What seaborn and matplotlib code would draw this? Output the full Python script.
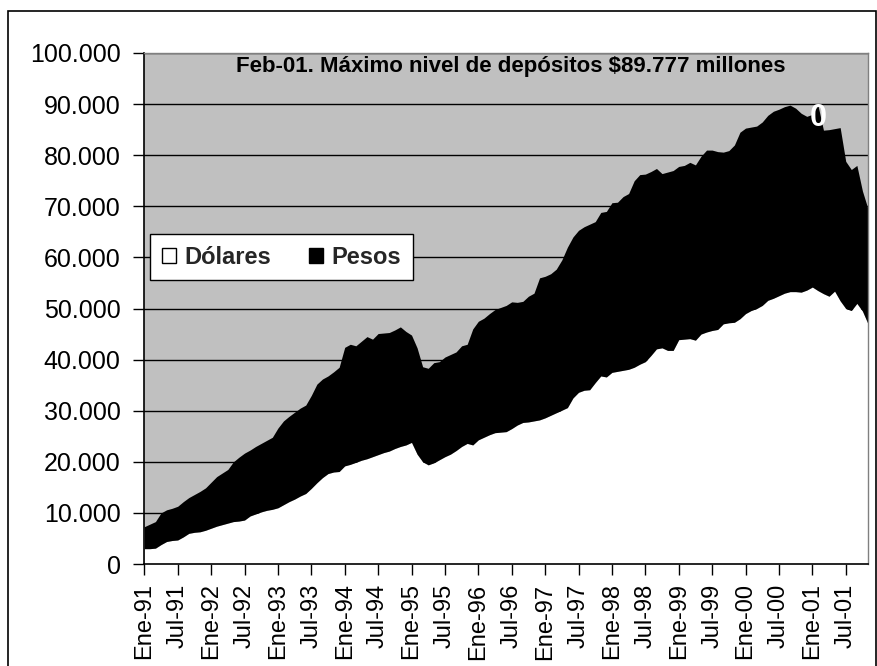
"""Depósitos del sistema financiero: stacked area of dólares and pesos, 1991-2001."""

import matplotlib.pyplot as plt
import numpy as np
import seaborn as sns
from matplotlib.patches import Patch, Rectangle
from matplotlib.ticker import FuncFormatter

# monthly values, Ene-91 .. Nov-01, in millions of $
dolares = [
    3.0, 3.0, 3.1, 3.8, 4.4, 4.6, 4.7, 5.3, 6.0, 6.2, 6.3, 6.6,
    7.0, 7.4, 7.7, 8.0, 8.3, 8.4, 8.6, 9.4, 9.8, 10.2, 10.5, 10.7,
    11.0, 11.6, 12.2, 12.7, 13.3, 13.8, 14.8, 15.9, 16.9, 17.7, 18.0, 18.1,
    19.2, 19.5, 19.9, 20.3, 20.6, 21.0, 21.4, 21.8, 22.1, 22.6, 23.0, 23.3,
    23.8, 21.5, 20.0, 19.4, 19.8, 20.4, 21.0, 21.5, 22.2, 23.0, 23.6, 23.3,
    24.3, 24.8, 25.3, 25.7, 25.8, 25.9, 26.5, 27.2, 27.7, 27.8, 28.0, 28.2,
    28.6, 29.1, 29.6, 30.1, 30.6, 32.5, 33.6, 34.0, 34.1, 35.5, 36.8, 36.6,
    37.5, 37.7, 37.9, 38.1, 38.5, 39.1, 39.6, 40.8, 42.1, 42.3, 41.8, 41.8,
    43.9, 44.0, 44.1, 43.8, 45.0, 45.4, 45.7, 45.9, 47.0, 47.2, 47.3, 48.0,
    49.0, 49.6, 50.0, 50.6, 51.6, 52.0, 52.5, 53.0, 53.3, 53.3, 53.2, 53.6,
    54.2, 53.5, 52.9, 52.4, 53.4, 51.5, 50.0, 49.6, 51.0, 49.5, 47.0,
]
total_depositos = [
    7.3, 7.8, 8.3, 10.0, 10.6, 10.9, 11.3, 12.2, 13.0, 13.6, 14.2, 14.9,
    16.0, 17.1, 17.8, 18.5, 20.0, 20.9, 21.7, 22.3, 23.0, 23.6, 24.2, 24.8,
    26.6, 28.0, 28.9, 29.7, 30.5, 31.1, 33.0, 35.2, 36.2, 36.8, 37.6, 38.5,
    42.4, 43.0, 42.7, 43.6, 44.5, 44.0, 45.1, 45.2, 45.3, 45.8, 46.4, 45.5,
    44.8, 42.3, 38.6, 38.3, 39.4, 39.6, 40.5, 41.0, 41.5, 42.7, 43.0, 46.0,
    47.5, 48.1, 49.0, 49.8, 50.2, 50.6, 51.3, 51.2, 51.4, 52.4, 53.0, 56.0,
    56.3, 56.8, 57.7, 59.5, 62.0, 64.0, 65.3, 66.0, 66.5, 67.0, 68.8, 69.0,
    70.7, 70.8, 71.9, 72.5, 75.0, 76.2, 76.3, 76.8, 77.4, 76.4, 76.7, 77.0,
    77.8, 78.0, 78.6, 78.1, 79.8, 81.0, 81.0, 80.7, 80.6, 80.9, 82.0, 84.5,
    85.3, 85.5, 85.7, 86.5, 87.8, 88.6, 89.0, 89.5, 89.8, 89.2, 88.2, 87.6,
    88.0, 89.8, 84.9, 85.0, 85.2, 85.4, 78.8, 77.2, 78.0, 73.0, 69.5,
]
tick_labels = [
    "Ene-91", "Jul-91", "Ene-92", "Jul-92", "Ene-93", "Jul-93", "Ene-94",
    "Jul-94", "Ene-95", "Jul-95", "Ene-96", "Jul-96", "Ene-97", "Jul-97",
    "Ene-98", "Jul-98", "Ene-99", "Jul-99", "Ene-00", "Jul-00", "Ene-01",
    "Jul-01",
]
titulo = "Feb-01. Máximo nivel de depósitos $89.777 millones"
mes_maximo = 121  # Feb-01

sns.set_theme(style="white")
plt.rcParams["font.family"] = ["Liberation Sans", "DejaVu Sans"]

meses = np.arange(len(dolares))
dol = np.array(dolares) * 1000
tot = np.array(total_depositos) * 1000

fig = plt.figure(figsize=(8.78, 6.66), dpi=100)
ax = fig.add_axes([144.3 / 878, 1 - 564 / 666, (868 - 144.3) / 878, (564 - 53) / 666])
ax.set_facecolor("#C0C0C0")

ax.fill_between(meses, 0, dol, color="white", lw=0, zorder=2)
ax.fill_between(meses, dol, tot, color="black", lw=0, zorder=2)

ax.set_xlim(0, len(dolares) - 1)
ax.set_ylim(0, 100000)
ax.set_yticks(np.arange(0, 100001, 10000))
ax.yaxis.set_major_formatter(FuncFormatter(lambda v, _: f"{int(v):,}".replace(",", ".")))
ax.set_xticks(np.arange(0, 6 * len(tick_labels), 6))
ax.set_xticklabels(tick_labels, rotation=90)

ax.grid(axis="y", color="black", lw=1)
ax.set_axisbelow(True)
ax.tick_params(axis="both", direction="out", length=8, width=1, color="black",
               labelcolor="black", bottom=True, left=True)
ax.tick_params(axis="y", pad=9, labelsize=18)
ax.tick_params(axis="x", pad=6, labelsize=17)
for side in ("left", "bottom"):
    ax.spines[side].set_color("black")
    ax.spines[side].set_linewidth(1.2)
for side in ("top", "right"):
    ax.spines[side].set_color("#808080")
    ax.spines[side].set_linewidth(1)

ax.text(0.507, 0.974, titulo, transform=ax.transAxes, ha="center", va="center",
        fontsize=16, fontweight="bold", color="black", zorder=4)
ax.text(mes_maximo, 87300, "0", ha="center", va="center", fontsize=22,
        fontweight="bold", color="white", zorder=4)

handles = [Patch(facecolor="white", edgecolor="black", lw=1, label="Dólares"),
           Patch(facecolor="black", edgecolor="black", lw=1, label="Pesos")]
leg = ax.legend(handles=handles, ncol=2, loc="center left",
                bbox_to_anchor=(150 / 878, 1 - 257 / 666), bbox_transform=fig.transFigure,
                prop={"size": 17, "weight": "bold"}, frameon=True, fancybox=False,
                handlelength=0.6, handleheight=0.6, handletextpad=0.35,
                columnspacing=1.6, borderpad=0.5, borderaxespad=0)
leg.get_frame().set_edgecolor("black")
leg.get_frame().set_linewidth(1)
leg.get_frame().set_facecolor("white")
leg.get_frame().set_alpha(1)
leg.set_zorder(5)

fig.patches.append(Rectangle((8 / 878, -0.02), (876 - 8) / 878, (666 - 11) / 666 + 0.02,
                             transform=fig.transFigure, fill=False, ec="black", lw=1.2))

fig.savefig("out.png", dpi=100)
plt.close(fig)
